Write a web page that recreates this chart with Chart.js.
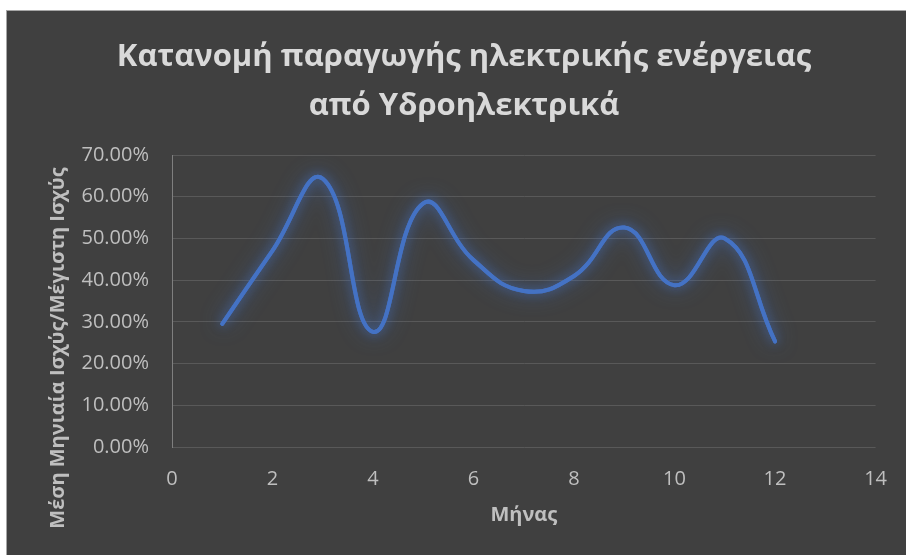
<!DOCTYPE html>
<html lang="el">
<head>
<meta charset="utf-8">
<title>Κατανομή παραγωγής ηλεκτρικής ενέργειας από Υδροηλεκτρικά</title>
<script src="https://cdn.jsdelivr.net/npm/chart.js@4.4.1/dist/chart.umd.min.js"></script>
<style>
  html, body { margin: 0; padding: 0; background: #ffffff; overflow: hidden; }
  #frame {
    position: absolute; left: 6px; top: 10px;
    width: 900px; height: 545px;
    border-left: 1px solid #a6a6a6; border-top: 1px solid #a6a6a6;
    background: #404040;
  }
  #wrap { position: absolute; left: 0; top: 0; width: 900px; height: 545px; }
</style>
</head>
<body>
<div id="frame"><div id="wrap"><canvas id="chart"></canvas></div></div>
<script>
// Μήνας (1–12)
const months = [1, 2, 3, 4, 5, 6, 7, 8, 9, 10, 11, 12];
// Μέση μηνιαία ισχύς / μέγιστη ισχύς, σε %
const ratioPercent = [29.5, 47.1, 64.3, 27.6, 58.4, 44.8, 37.4, 41.0, 52.6, 38.8, 50.0, 25.3];

const titleLines = ['Κατανομή παραγωγής ηλεκτρικής ενέργειας', 'από Υδροηλεκτρικά'];
const xTitle = 'Μήνας';
const yTitle = 'Μέση Μηνιαία Ισχύς/Μέγιστη Ισχύς';

const FONT = "'Open Sans', 'Noto Sans', 'DejaVu Sans', sans-serif";
const TEXT_LIGHT = '#d9d9d9';
const TEXT_MUTED = '#bfbfbf';
const GRID = '#595959';

// soft blue glow around the series line: the line element is stroked
// once more with a shadow before the regular pass
const glowPlugin = {
  id: 'glow',
  beforeDatasetDraw(chart, args) {
    const ctx = chart.ctx;
    const line = args.meta.dataset;
    ctx.save();
    ctx.shadowColor = 'rgba(68, 114, 196, 0.9)';
    ctx.shadowBlur = 20;
    line.draw(ctx, chart.chartArea);
    ctx.restore();
    ctx.save();
    ctx.shadowColor = 'rgba(68, 114, 196, 0.6)';
    ctx.shadowBlur = 10;
  },
  afterDatasetDraw(chart) {
    chart.ctx.restore();
  }
};

// chart title and axis titles
const titlesPlugin = {
  id: 'titles',
  afterDraw(chart) {
    const ctx = chart.ctx;
    const area = chart.chartArea;
    ctx.save();
    ctx.textAlign = 'center';
    ctx.textBaseline = 'middle';

    ctx.fillStyle = TEXT_LIGHT;
    ctx.font = "bold 31px " + FONT;
    ctx.fillText(titleLines[0], 457, 46);
    ctx.fillText(titleLines[1], 457, 95);

    ctx.fillStyle = TEXT_MUTED;
    ctx.font = "bold 20px " + FONT;
    ctx.fillText(xTitle, (area.left + area.right) / 2, 504);

    ctx.translate(51, 337);
    ctx.rotate(-Math.PI / 2);
    ctx.fillText(yTitle, 0, 0);
    ctx.restore();
  }
};

new Chart(document.getElementById('chart'), {
  type: 'line',
  data: {
    datasets: [{
      data: months.map((m, i) => ({ x: m, y: ratioPercent[i] })),
      borderColor: '#4472c4',
      borderWidth: 4,
      borderCapStyle: 'round',
      borderJoinStyle: 'round',
      tension: 0.45,
      pointRadius: 0,
      fill: false
    }]
  },
  options: {
    responsive: true,
    maintainAspectRatio: false,
    animation: false,
    layout: { padding: { top: 144, right: 27, bottom: 0, left: 0 } },
    plugins: {
      legend: { display: false },
      title: { display: false },
      tooltip: { enabled: false }
    },
    scales: {
      x: {
        type: 'linear',
        min: 0,
        max: 14,
        ticks: {
          stepSize: 2,
          color: TEXT_MUTED,
          font: { family: FONT, size: 20 },
          padding: 20,
          maxRotation: 0
        },
        grid: { display: false, drawTicks: false },
        border: { display: false },
        afterFit(scale) { scale.height = 109; }
      },
      y: {
        min: 0,
        max: 70,
        ticks: {
          stepSize: 10,
          color: TEXT_MUTED,
          font: { family: FONT, size: 20 },
          padding: 23,
          callback: (v) => v.toFixed(2) + '%'
        },
        grid: { color: GRID, lineWidth: 1, drawTicks: false },
        border: { display: true, color: '#7f7f7f', width: 1 },
        afterFit(scale) { scale.width = 165; }
      }
    }
  },
  plugins: [glowPlugin, titlesPlugin]
});
</script>
</body>
</html>
